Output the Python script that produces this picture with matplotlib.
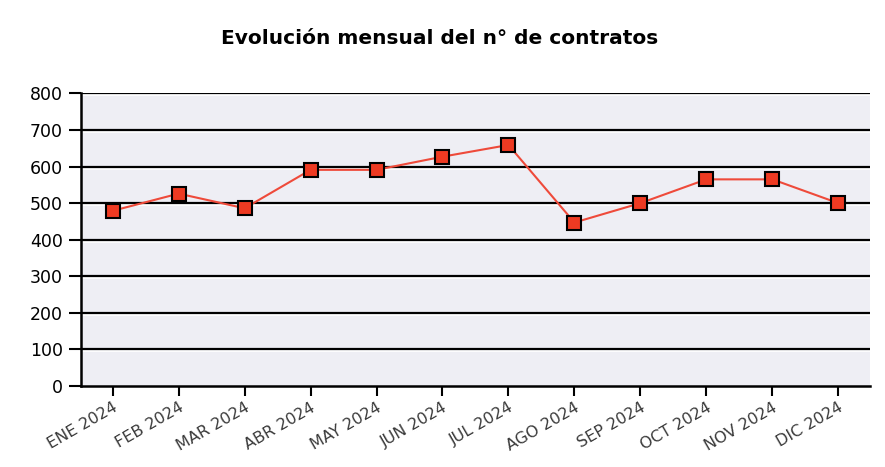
import matplotlib
matplotlib.use("Agg")
import matplotlib.pyplot as plt
import matplotlib.transforms as mtransforms

# Datos
meses = ["ENE 2024", "FEB 2024", "MAR 2024", "ABR 2024", "MAY 2024", "JUN 2024",
         "JUL 2024", "AGO 2024", "SEP 2024", "OCT 2024", "NOV 2024", "DIC 2024"]
contratos = [479, 526, 486, 591, 591, 627, 659, 447, 500, 565, 565, 500]
yticks = [0, 100, 200, 300, 400, 500, 600, 700, 800]

fig = plt.figure(figsize=(8.85, 4.67), dpi=100)
ax = fig.add_axes([0.0915, 0.1734, 0.8915, 0.6266])
ax.set_facecolor("#eeeef4")

x = list(range(len(meses)))
xlim = (-0.48, 11.48)

# lineas de la rejilla (negra con brillo blanco debajo)
offset = mtransforms.offset_copy(ax.transData, fig=fig, x=0, y=-2, units="dots")
for v in yticks[1:]:
    ax.plot(xlim, [v, v], color="white", linewidth=1.2, transform=offset, zorder=1)
    ax.plot(xlim, [v, v], color="black", linewidth=1.6, zorder=1.5)

ax.plot(x, contratos, color="#ee4a3a", linewidth=1.5, zorder=2)
ax.plot(x, contratos, linestyle="none", marker="s", markersize=10,
        markerfacecolor="#ee3a22", markeredgecolor="black", markeredgewidth=1.5,
        zorder=3)

ax.set_xlim(*xlim)
ax.set_ylim(0, 800)
ax.set_yticks(yticks)
ax.set_xticks(x)
ax.set_xticklabels(meses, rotation=30, ha="right", rotation_mode="anchor",
                   fontsize=11.5, color="#3a3a3a")
ax.tick_params(axis="y", labelsize=12.5, length=9, width=1.5, pad=4)
ax.tick_params(axis="x", length=7, width=1.5, pad=3)

for s in ["top", "right"]:
    ax.spines[s].set_visible(False)
for s in ["left", "bottom"]:
    ax.spines[s].set_linewidth(1.8)

fig.text(0.497, 0.918, "Evolución mensual del n° de contratos", ha="center",
         va="center", fontsize=14.5, fontweight="bold")

fig.savefig("out.png", dpi=100, facecolor="white")
plt.close(fig)
